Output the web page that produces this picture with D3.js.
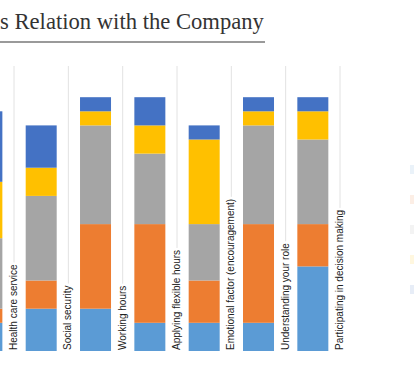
<!DOCTYPE html>
<html>
<head>
<meta charset="utf-8">
<script src="https://cdn.jsdelivr.net/npm/d3@7"></script>
<style>
  body { margin: 0; background: #fff; }
  svg { display: block; }
</style>
</head>
<body>
<div id="chart"></div>
<script>
const WIDTH = 414;
const HEIGHT = 370;

// data (counts per answer)
const categories = ["Health care service", "Social security", "Working hours",
  "Applying flexible hours", "Emotional factor (encouragement)",
  "Understanding your role", "Participating in decision making"];
const seriesNames = ["Very low", "Low", "Medium", "High", "Very high"];
const veryLow  = [2, 3, 3, 2, 2, 2, 6];
const low      = [1, 2, 6, 7, 3, 7, 3];
const medium   = [5, 6, 7, 5, 4, 7, 6];
const high     = [4, 2, 1, 2, 6, 1, 2];
const veryHigh = [5, 3, 1, 2, 1, 1, 1];
const colors = ["#5b9bd5", "#ed7d31", "#a5a5a5", "#ffc000", "#4472c4"];

const rows = categories.map((c, i) => ({
  cat: c,
  "Very low": veryLow[i], "Low": low[i], "Medium": medium[i],
  "High": high[i], "Very high": veryHigh[i]
}));

const svg = d3.select('#chart')
  .append('svg')
    .attr('width', WIDTH)
    .attr('height', HEIGHT);

// title: only the part visible in the cropped original
const title = svg.append('text')
  .attr('x', 0)
  .attr('y', 29)
  .style('font-family', '"Liberation Serif", "Times New Roman", serif')
  .style('font-size', '22px')
  .style('fill', '#333')
  .text("s Relation with the Company");
// fit to the underline width
const tw = title.node().getComputedTextLength();
title.style('font-size', (22 * 264 / tw).toFixed(2) + 'px');

svg.append('line')
  .attr('x1', 0).attr('x2', 265)
  .attr('y1', 42).attr('y2', 42)
  .style('stroke', '#9a9a9a')
  .style('stroke-width', 2);

const x = d3.scaleBand()
  .domain(categories)
  .range([-40.3, 340])
  .paddingInner(0)
  .paddingOuter(0);

const y = d3.scaleLinear()
  .domain([0, 20])
  .range([351, 69]);

const stack = d3.stack().keys(seriesNames);
const layers = stack(rows);

// labels at the right edge of each band, gridline above them
const labelG = svg.append('g');
categories.forEach(c => {
  const gx = x(c) + x.bandwidth();
  const t = labelG.append('text')
    .attr('transform', `translate(${gx + 3},350) rotate(-90)`)
    .attr('text-anchor', 'start')
    .style('font-family', '"Liberation Sans", Arial, sans-serif')
    .style('font-size', '10px')
    .style('fill', '#222')
    .text(c);
  const len = t.node().getComputedTextLength();
  svg.insert('line', ':first-child')
    .attr('x1', gx).attr('x2', gx)
    .attr('y1', 66).attr('y2', 350 - len - 2)
    .style('stroke', '#e2e2e2')
    .style('stroke-width', 1);
});

const barW = 31;
svg.selectAll('.layer')
  .data(layers)
  .enter().append('g')
    .attr('class', 'layer')
    .attr('fill', (d, i) => colors[i])
  .selectAll('rect')
  .data(d => d)
  .enter().append('rect')
    .attr('x', d => x(d.data.cat) + (x.bandwidth() - barW) / 2)
    .attr('width', barW)
    .attr('y', d => y(d[1]))
    .attr('height', d => y(d[0]) - y(d[1]));

// legend, almost washed out and cut at the right edge
const legend = svg.append('g').style('opacity', 0.12);
seriesNames.forEach((s, i) => {
  legend.append('rect')
    .attr('x', 410)
    .attr('y', 165 + i * 30)
    .attr('width', 5)
    .attr('height', 9)
    .attr('fill', colors[i]);
});
</script>
</body>
</html>
